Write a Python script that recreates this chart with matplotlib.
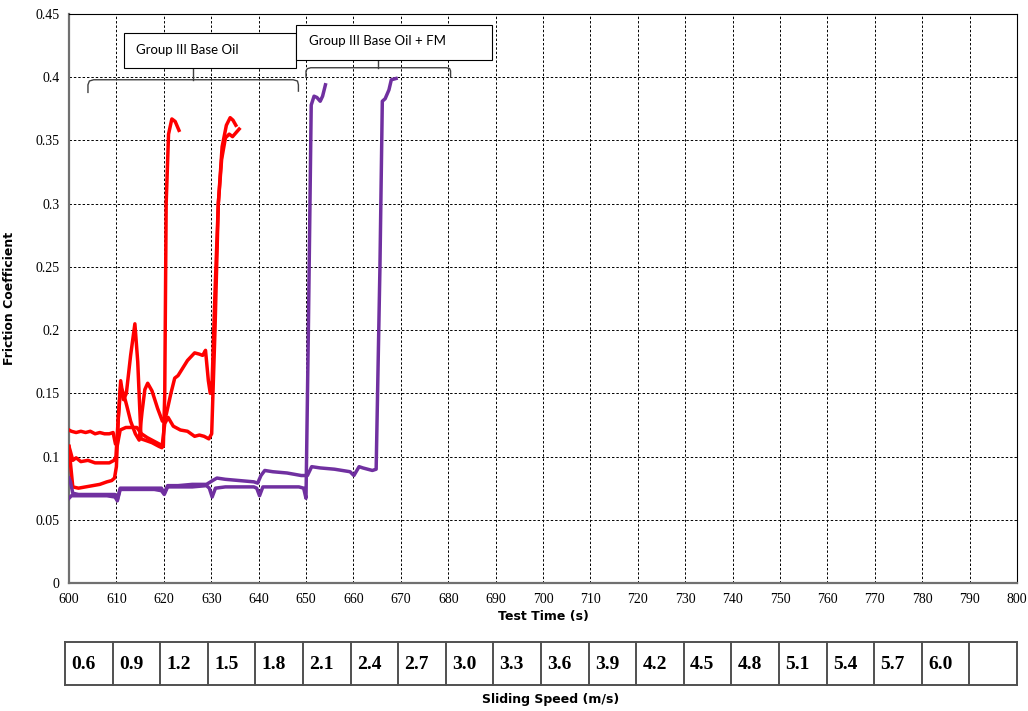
import matplotlib
matplotlib.use("Agg")
import matplotlib.pyplot as plt
from matplotlib.patches import Rectangle

# --- data ---
red_a_t = [600, 600.5, 601.5, 602.5, 603.5, 604.5, 605.5, 606.5, 607.5, 608.5, 609.3, 609.8,
           610.2, 610.8, 612, 613, 614.3, 615.3, 616.5, 617.5, 618.5, 619.5, 619.9, 620.2,
           620.5, 621, 621.7, 622.4, 623.2]
red_a_f = [0.121, 0.120, 0.119, 0.120, 0.119, 0.120, 0.118, 0.119, 0.118, 0.118, 0.119, 0.110,
           0.109, 0.121, 0.123, 0.123, 0.123, 0.118, 0.115, 0.113, 0.111, 0.109, 0.108, 0.150,
           0.300, 0.355, 0.367, 0.365, 0.358]

red_b_t = [600, 600.3, 600.8, 601.5, 602.5, 604, 605.5, 607, 608.5, 609.5, 609.9, 610.3,
           610.9, 611.5, 612.1, 613, 613.9, 614.5, 615.2, 616, 617.5, 619, 619.6, 620.2,
           620.9, 622, 623.5, 625, 626.5, 627.5, 628.5, 629.5, 630.1, 630.8, 631.5, 632.3,
           633.2, 634, 634.6, 635.2]
red_b_f = [0.108, 0.104, 0.097, 0.099, 0.096, 0.097, 0.095, 0.095, 0.095, 0.097, 0.100, 0.125,
           0.160, 0.145, 0.150, 0.180, 0.205, 0.175, 0.114, 0.113, 0.111, 0.108, 0.107, 0.126,
           0.131, 0.124, 0.121, 0.120, 0.116, 0.117, 0.116, 0.114, 0.118, 0.200, 0.300, 0.345,
           0.362, 0.368, 0.366, 0.362]

red_c_t = [600, 600.3, 600.8, 602, 603.5, 605, 606.5, 608, 609, 609.6, 610.0, 610.4, 610.9,
           611.5, 612.2, 613, 614, 614.8, 615.4, 616, 616.6, 617.5, 618.7, 619.7, 620.5,
           621.5, 622.3, 623, 624, 625, 626.5, 627.5, 628.2, 628.8, 629.4, 629.8, 630.2,
           630.8, 631.5, 632.2, 633, 633.8, 634.5, 635.2, 635.9]
red_c_f = [0.108, 0.095, 0.076, 0.075, 0.076, 0.077, 0.078, 0.080, 0.081, 0.083, 0.092, 0.130,
           0.155, 0.150, 0.140, 0.128, 0.118, 0.113, 0.135, 0.153, 0.158, 0.152, 0.138, 0.128,
           0.133, 0.150, 0.162, 0.164, 0.170, 0.176, 0.182, 0.181, 0.180, 0.184, 0.160, 0.150,
           0.160, 0.230, 0.300, 0.335, 0.352, 0.355, 0.353, 0.356, 0.359]

pur_a_t = [600, 600.3, 600.8, 602, 605, 608, 609.7, 610.2, 610.8, 612, 615, 618, 619.5, 620.1,
           620.8, 623, 626, 629, 630.3, 631.2, 633, 636, 639, 639.8, 640.5, 641.3, 643, 646,
           649, 650.3, 651.2, 653, 656, 659.3, 660.1, 661.2, 662, 663, 664, 664.8, 665.6,
           666.1, 666.7, 667.5, 668, 669]
pur_a_f = [0.083, 0.080, 0.071, 0.070, 0.070, 0.070, 0.070, 0.066, 0.075, 0.075, 0.075, 0.075,
           0.075, 0.071, 0.077, 0.077, 0.078, 0.078, 0.081, 0.083, 0.082, 0.081, 0.080, 0.079,
           0.085, 0.089, 0.088, 0.087, 0.085, 0.085, 0.092, 0.091, 0.090, 0.088, 0.085, 0.092,
           0.091, 0.090, 0.089, 0.090, 0.250, 0.381, 0.383, 0.390, 0.398, 0.399]

pur_b_t = [600, 600.5, 602, 605, 608, 609.7, 610.2, 610.8, 612, 615, 618, 619.5, 620.1, 620.8,
           623, 626, 629, 629.6, 630.2, 630.9, 633, 636, 639, 639.6, 640.2, 640.9, 643, 646,
           648.5, 649.5, 650.0, 650.5, 651.1, 651.7, 652.3, 653, 653.5, 654.1]
pur_b_f = [0.067, 0.069, 0.069, 0.069, 0.069, 0.068, 0.065, 0.074, 0.074, 0.074, 0.074, 0.073,
           0.070, 0.076, 0.076, 0.076, 0.077, 0.075, 0.068, 0.075, 0.076, 0.076, 0.076, 0.075,
           0.069, 0.076, 0.076, 0.076, 0.076, 0.075, 0.067, 0.200, 0.378, 0.385, 0.384, 0.381,
           0.385, 0.394]

x_ticks = list(range(600, 801, 10))
y_ticks = [0, 0.05, 0.1, 0.15, 0.2, 0.25, 0.3, 0.35, 0.4, 0.45]
y_labels = ["0", "0.05", "0.1", "0.15", "0.2", "0.25", "0.3", "0.35", "0.4", "0.45"]
speeds = ["0.6", "0.9", "1.2", "1.5", "1.8", "2.1", "2.4", "2.7", "3.0", "3.3",
          "3.6", "3.9", "4.2", "4.5", "4.8", "5.1", "5.4", "5.7", "6.0", ""]

RED = "#ff0000"
PURPLE = "#7030a0"
W, H = 1028, 711

fig = plt.figure(figsize=(W / 100, H / 100), dpi=100, facecolor="white")
ax = fig.add_axes([69 / W, 1 - 583 / H, 948 / W, 569 / H])

for t, f in [(red_a_t, red_a_f), (red_b_t, red_b_f), (red_c_t, red_c_f)]:
    ax.plot(t, f, color=RED, lw=2.5, solid_joinstyle="round", zorder=3)
for t, f in [(pur_a_t, pur_a_f), (pur_b_t, pur_b_f)]:
    ax.plot(t, f, color=PURPLE, lw=2.5, solid_joinstyle="round", zorder=3)

ax.set_xlim(600, 800)
ax.set_ylim(0, 0.45)
ax.set_xticks(x_ticks)
ax.set_yticks(y_ticks)
ax.set_yticklabels(y_labels)
ax.tick_params(length=0, pad=7, labelsize=10)
for lab in ax.get_xticklabels() + ax.get_yticklabels():
    lab.set_fontfamily("Liberation Serif")
ax.grid(True, color="black", lw=0.7, linestyle=(0, (2.5, 2)))
for side in ["left", "bottom"]:
    ax.spines[side].set_color("#707070")
    ax.spines[side].set_linewidth(1.6)
for side in ["top", "right"]:
    ax.spines[side].set_color("black")
    ax.spines[side].set_linewidth(0.8)

ax.set_xlabel("Test Time (s)", fontsize=9, fontweight="bold", labelpad=3)
ax.set_ylabel("Friction Coefficient", fontsize=9, fontweight="bold", labelpad=14)

# annotation boxes
ax.add_patch(Rectangle((611.6, 0.4075), 36.3, 0.0275, facecolor="white",
                       edgecolor="black", lw=0.8, zorder=5))
ax.text(614.2, 0.4215, "Group III Base Oil", fontsize=9.5, family="Lato",
        va="center", ha="left", zorder=6)
ax.add_patch(Rectangle((647.9, 0.4138), 41.3, 0.0277, facecolor="white",
                       edgecolor="black", lw=0.8, zorder=5))
ax.text(650.6, 0.4285, "Group III Base Oil + FM", fontsize=9.5, family="Lato",
        va="center", ha="left", zorder=6)

# brackets
BR = "#404040"
ax.plot([604.0, 604.0, 604.3, 605.2, 647.3, 648.2, 648.4, 648.4],
        [0.388, 0.394, 0.397, 0.398, 0.398, 0.397, 0.394, 0.389], color=BR, lw=1.0, zorder=4)
ax.plot([626.2, 626.2], [0.398, 0.4075], color=BR, lw=1.0, zorder=4)
ax.plot([650.0, 650.0, 650.3, 651.0, 679.6, 680.3, 680.5, 680.5],
        [0.400, 0.405, 0.4068, 0.4075, 0.4075, 0.4068, 0.405, 0.400], color=BR, lw=1.0, zorder=4)
ax.plot([665.2, 665.2], [0.4075, 0.4138], color=BR, lw=1.0, zorder=4)

# sliding speed table
tab = fig.add_axes([65 / W, 1 - 685 / H, 952 / W, 43 / H])
tab.set_xlim(0, len(speeds))
tab.set_ylim(0, 1)
tab.axis("off")
for i in range(len(speeds) + 1):
    tab.plot([i, i], [0, 1], color="#505050", lw=1.4, clip_on=False)
tab.plot([0, len(speeds)], [0, 0], color="#505050", lw=1.4, clip_on=False)
tab.plot([0, len(speeds)], [1, 1], color="#505050", lw=1.4, clip_on=False)
for i, s in enumerate(speeds):
    tab.text(i + 0.13, 0.48, s, fontsize=14, fontweight="bold",
             family="Liberation Serif", va="center", ha="left")
fig.text(551 / W, 1 - 700 / H, "Sliding Speed (m/s)", fontsize=9, fontweight="bold",
         ha="center", va="center")

fig.savefig("out.png", dpi=100, facecolor="white")
